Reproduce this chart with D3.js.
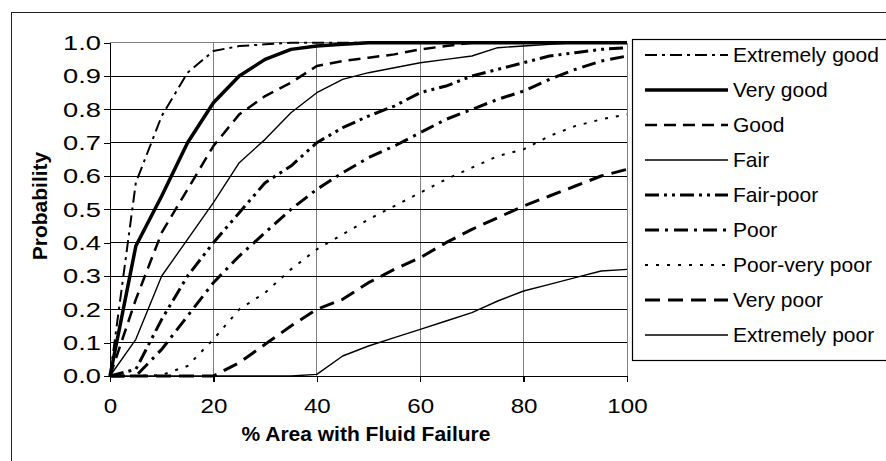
<!DOCTYPE html>
<html>
<head>
<meta charset="utf-8">
<script src="https://cdn.jsdelivr.net/npm/d3@7"></script>
<style>
  body { margin: 0; background: #fff; }
  svg { display: block; font-family: "Liberation Sans", Arial, sans-serif; }
</style>
</head>
<body>
<div class="chart"></div>
<script>
// % area with fluid failure vs probability, one curve per condition class
const areaPct = [0, 5, 10, 15, 20, 25, 30, 35, 40, 45, 50, 55, 60, 65, 70, 75, 80, 85, 90, 95, 100];

const extremelyGood = [0, 0.58, 0.78, 0.91, 0.975, 0.99, 0.995, 1, 1, 1, 1, 1, 1, 1, 1, 1, 1, 1, 1, 1, 1];
const veryGood      = [0, 0.39, 0.54, 0.70, 0.82, 0.90, 0.95, 0.98, 0.99, 0.995, 1, 1, 1, 1, 1, 1, 1, 1, 1, 1, 1];
const good          = [0, 0.23, 0.43, 0.56, 0.69, 0.785, 0.84, 0.88, 0.93, 0.945, 0.955, 0.965, 0.98, 0.99, 1, 1, 1, 1, 1, 1, 1];
const fair          = [0, 0.11, 0.30, 0.41, 0.52, 0.64, 0.71, 0.79, 0.85, 0.89, 0.91, 0.925, 0.94, 0.95, 0.96, 0.985, 0.99, 0.995, 1, 1, 1];
const fairPoor      = [0, 0.02, 0.17, 0.30, 0.40, 0.49, 0.58, 0.63, 0.70, 0.745, 0.78, 0.81, 0.85, 0.87, 0.90, 0.92, 0.94, 0.96, 0.97, 0.98, 0.985];
const poor          = [0, 0, 0.08, 0.18, 0.28, 0.36, 0.43, 0.50, 0.56, 0.61, 0.655, 0.69, 0.73, 0.77, 0.80, 0.83, 0.855, 0.89, 0.92, 0.945, 0.96];
const poorVeryPoor  = [0, 0, 0.003, 0.03, 0.11, 0.20, 0.25, 0.32, 0.38, 0.425, 0.47, 0.51, 0.55, 0.59, 0.625, 0.66, 0.68, 0.72, 0.75, 0.77, 0.785];
const veryPoor      = [0, 0, 0, 0, 0, 0.04, 0.095, 0.15, 0.20, 0.23, 0.28, 0.32, 0.355, 0.40, 0.44, 0.475, 0.51, 0.54, 0.57, 0.60, 0.62];
const extremelyPoor = [0, 0, 0, 0, 0, 0, 0, 0, 0.005, 0.06, 0.09, 0.115, 0.14, 0.165, 0.19, 0.225, 0.255, 0.275, 0.295, 0.315, 0.32];

const seriesNames = ["Extremely good", "Very good", "Good", "Fair", "Fair-poor", "Poor", "Poor-very poor", "Very poor", "Extremely poor"];
const seriesValues = [extremelyGood, veryGood, good, fair, fairPoor, poor, poorVeryPoor, veryPoor, extremelyPoor];

const yTicks = [0, 0.1, 0.2, 0.3, 0.4, 0.5, 0.6, 0.7, 0.8, 0.9, 1.0];
const xTicks = [0, 20, 40, 60, 80, 100];

// line look per series
const styles = [
  {w: 2,   dash: "12,5,3,5"},
  {w: 3.5, dash: null},
  {w: 2.5, dash: "12,7"},
  {w: 1.4, dash: null},
  {w: 3,   dash: "14,5,3,5,3,5"},
  {w: 3,   dash: "14,6,3,6"},
  {w: 2,   dash: "3,8"},
  {w: 3,   dash: "15,8"},
  {w: 1.4, dash: null}
];

const W = 886, H = 461;
const plot = {left: 110, right: 627, top: 42.7, bottom: 376};

const svg = d3.select(".chart").append("svg")
    .attr("width", W)
    .attr("height", H);

// outer chart frame (runs off the right and bottom)
svg.append("rect")
    .attr("x", 11.5).attr("y", 12.5)
    .attr("width", 1000).attr("height", 1000)
    .attr("fill", "none")
    .attr("stroke", "#222")
    .attr("stroke-width", 1);

const xScale = d3.scaleLinear().domain([0, 100]).range([plot.left, plot.right]);
const yScale = d3.scaleLinear().domain([0, 1]).range([plot.bottom, plot.top]);

// vertical grid (grey)
svg.append("g")
  .selectAll("line")
  .data([20, 40, 60, 80, 100])
  .join("line")
    .attr("x1", d => xScale(d)).attr("x2", d => xScale(d))
    .attr("y1", plot.top).attr("y2", plot.bottom)
    .attr("stroke", "#808080")
    .attr("stroke-width", 1)
    .attr("shape-rendering", "crispEdges");

// horizontal grid (black)
svg.append("g")
  .selectAll("line")
  .data(yTicks.filter(d => d > 0 && d < 1))
  .join("line")
    .attr("x1", plot.left).attr("x2", plot.right)
    .attr("y1", d => yScale(d)).attr("y2", d => yScale(d))
    .attr("stroke", "#000")
    .attr("stroke-width", 1)
    .attr("shape-rendering", "crispEdges");

svg.append("line")
    .attr("x1", plot.left).attr("x2", plot.right)
    .attr("y1", yScale(1)).attr("y2", yScale(1))
    .attr("stroke", "#808080")
    .attr("shape-rendering", "crispEdges");

// axes
const xAxis = d3.axisBottom(xScale).tickValues(xTicks).tickSize(6).tickPadding(16);
const yAxis = d3.axisLeft(yScale).tickValues(yTicks).tickSize(6).tickFormat(d3.format(".1f"));

const gx = svg.append("g")
    .attr("class", "axis x-axis")
    .attr("transform", "translate(0," + plot.bottom + ")")
    .call(xAxis);
const gy = svg.append("g")
    .attr("class", "axis y-axis")
    .attr("transform", "translate(" + plot.left + ",0)")
    .call(yAxis);

[gx, gy].forEach(g => {
  g.selectAll("path, line")
    .attr("stroke", "#000")
    .attr("stroke-width", 1.2)
    .attr("shape-rendering", "crispEdges");
  g.selectAll("text")
    .attr("fill", "#000")
    .style("font-size", "21px")
    .style("font-family", "'Liberation Sans', Arial, sans-serif");
});

// tick labels in the original are drawn a little wide
gy.selectAll("text")
    .attr("x", 0)
    .attr("transform", "translate(-9,0) scale(1.3,1)");
gx.selectAll("text")
    .attr("transform", "scale(1.15,1)");

// curves
const line = d3.line()
    .x((d, i) => xScale(areaPct[i]))
    .y(d => yScale(d));

svg.append("g")
  .selectAll("path")
  .data(seriesValues)
  .join("path")
    .attr("d", d => line(d))
    .attr("fill", "none")
    .attr("stroke", "#000")
    .attr("stroke-width", (d, i) => styles[i].w)
    .attr("stroke-dasharray", (d, i) => styles[i].dash)
    .attr("stroke-linejoin", "round");

// axis titles
svg.append("text")
    .attr("x", 366).attr("y", 441)
    .attr("text-anchor", "middle")
    .style("font-size", "21px")
    .style("font-weight", "bold")
    .text("% Area with Fluid Failure");

svg.append("text")
    .attr("transform", "translate(47,206) rotate(-90)")
    .attr("text-anchor", "middle")
    .style("font-size", "21px")
    .style("font-weight", "bold")
    .text("Probability");

// legend
const legend = svg.append("g");
legend.append("rect")
    .attr("x", 632.5).attr("y", 39.5)
    .attr("width", 400).attr("height", 321)
    .attr("fill", "#fff")
    .attr("stroke", "#000")
    .attr("stroke-width", 1.2);

const items = legend.selectAll("g.item")
  .data(seriesNames)
  .join("g")
    .attr("class", "item")
    .attr("transform", (d, i) => "translate(0," + (55 + i * 35) + ")");

items.append("line")
    .attr("x1", 645).attr("x2", 728)
    .attr("stroke", "#000")
    .attr("stroke-width", (d, i) => styles[i].w)
    .attr("stroke-dasharray", (d, i) => styles[i].dash);

items.append("text")
    .attr("x", 733)
    .attr("dy", "0.35em")
    .style("font-size", "21px")
    .text(d => d);
</script>
</body>
</html>
